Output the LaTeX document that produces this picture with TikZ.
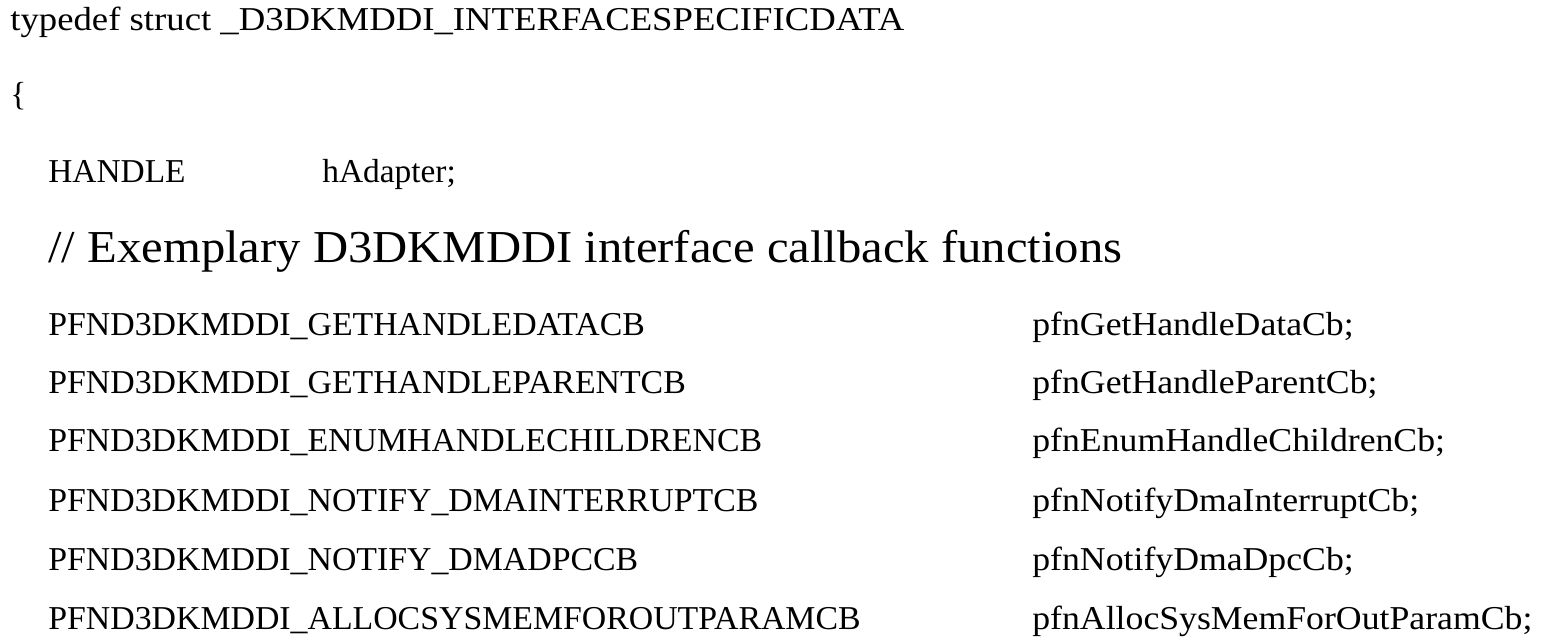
\documentclass[tikz,border=0pt]{standalone}
\usepackage{fontspec}
\setmainfont{Liberation Serif}
\begin{document}
\begin{tikzpicture}[x=0.02cm,y=-0.02cm,
  t/.style={anchor=base west,inner sep=0pt,font=\fontsize{19}{22}\selectfont},
  big/.style={anchor=base west,inner sep=0pt,font=\fontsize{26}{30}\selectfont}]
\useasboundingbox (0,0) rectangle (1560,637);
\node[t,xscale=1.1] (l1) at (10,30) {typedef struct \_D3DKMDDI\_INTERFACESPECIFICDATA};
\node[t] (l2) at (10,105) {\{};
\node[t] (h1) at (48,182) {HANDLE};
\node[t] (h2) at (322,182) {hAdapter;};
\node[big,xscale=1.065] (c) at (48,262) {// Exemplary D3DKMDDI interface callback functions};
\foreach \y/\a/\b/\n in {335/PFND3DKMDDI\_GETHANDLEDATACB/pfnGetHandleDataCb;/1,
  393/PFND3DKMDDI\_GETHANDLEPARENTCB/pfnGetHandleParentCb;/2,
  451/PFND3DKMDDI\_ENUMHANDLECHILDRENCB/pfnEnumHandleChildrenCb;/3,
  511/PFND3DKMDDI\_NOTIFY\_DMAINTERRUPTCB/pfnNotifyDmaInterruptCb;/4,
  570/PFND3DKMDDI\_NOTIFY\_DMADPCCB/pfnNotifyDmaDpcCb;/5,
  629/PFND3DKMDDI\_ALLOCSYSMEMFOROUTPARAMCB/pfnAllocSysMemForOutParamCb;/6}{
  \node[t,xscale=1.013] (a\n) at (48,\y) {\a};
  \node[t,xscale=1.07] (b\n) at (1032,\y) {\b};
}
\end{tikzpicture}
\end{document}
